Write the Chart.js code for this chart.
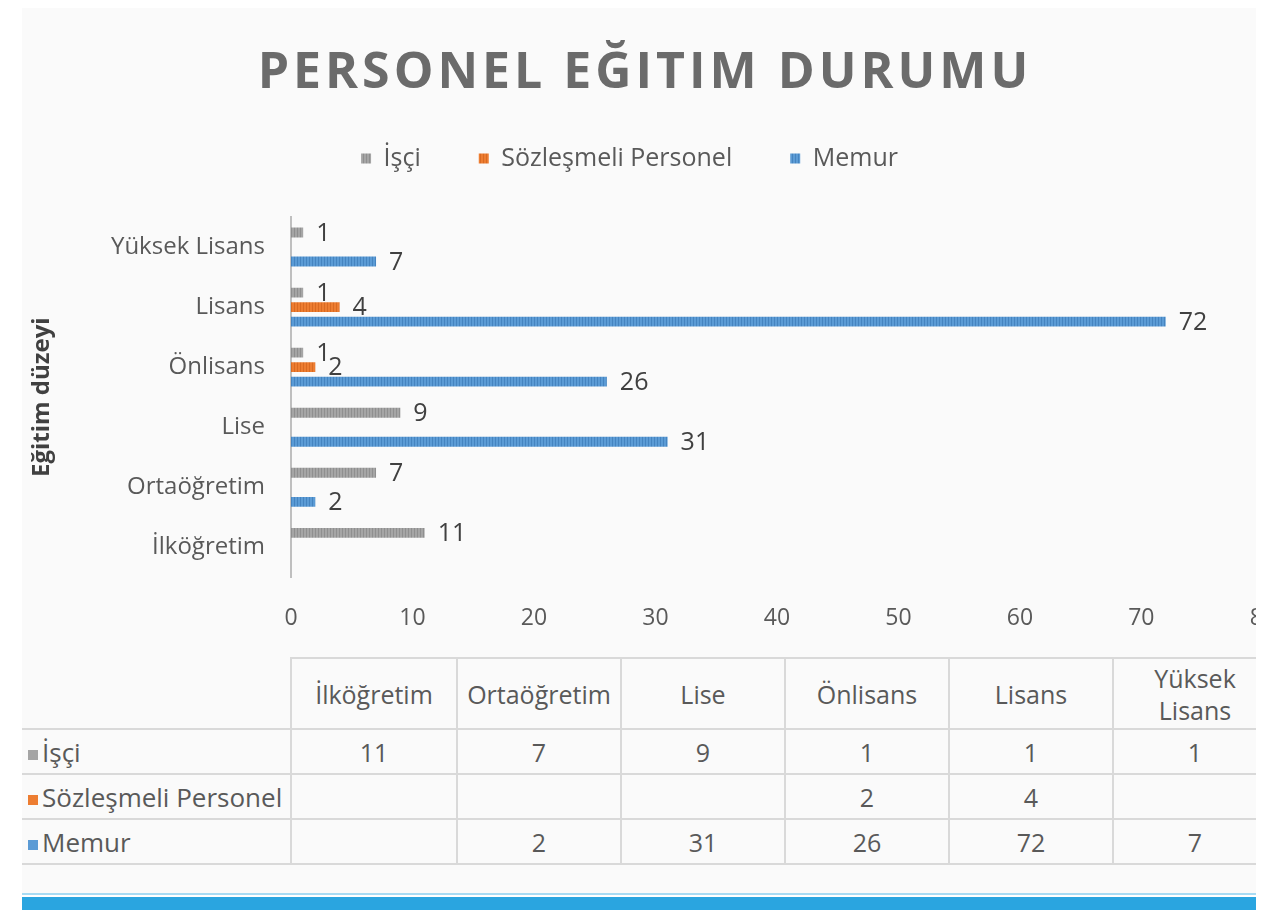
<!DOCTYPE html>
<html lang="tr">
<head>
<meta charset="utf-8">
<title>Personel Eğitim Durumu</title>
<script src="https://cdn.jsdelivr.net/npm/chart.js@4.4.1/dist/chart.umd.min.js"></script>
<style>
    html, body { margin: 0; padding: 0; width: 1265px; height: 910px; overflow: hidden; background: #fff; font-family: 'Open Sans', sans-serif; }
    #frame { position: absolute; left: 0; top: 0; width: 1256px; height: 910px; overflow: hidden; }
    #paper { position: absolute; left: 22px; top: 8px; width: 1234px; height: 885px; background: #fafafa; }
    #title { position: absolute; left: 0; top: 34px; width: 1290px; text-align: center; font-size: 50px; font-weight: 700; letter-spacing: 4px; color: #6b6b6b; line-height: 70px; }
    #chartBox { position: absolute; left: -44px; top: 88px; width: 1347px; height: 571px; }
    #dataTable { position: absolute; left: 22px; top: 657px; border-collapse: collapse; table-layout: fixed; width: 1255px; font-size: 25px; color: #595959; }
    #dataTable td { border: 2px solid #d9d9d9; text-align: center; padding: 0; line-height: 32px; }
    #dataTable tr.head td { height: 69px; }
    #dataTable tr.row td { height: 43px; }
    #dataTable td.corner { border-top: none; border-left: none; }
    #dataTable td.name { border-left: none; text-align: left; padding-left: 6px; white-space: nowrap; font-size: 26px; }
    .key { display: inline-block; width: 10px; height: 10px; margin-right: 4px; vertical-align: 2px; }
    #bandLight { position: absolute; left: 22px; top: 893px; width: 1234px; height: 2px; background: #a8dbf3; }
    #band { position: absolute; left: 22px; top: 897px; width: 1234px; height: 13px; background: #2aa5e0; }
</style>
</head>
<body>
<div id="frame">
    <div id="paper"></div>
    <div id="title">PERSONEL EĞITIM DURUMU</div>
    <table id="dataTable"></table>
    <div id="chartBox"><canvas id="egitimChart"></canvas></div>
    <div id="bandLight"></div>
    <div id="band"></div>
</div>
<script>
var categories       = ['İlköğretim', 'Ortaöğretim', 'Lise', 'Önlisans', 'Lisans', 'Yüksek Lisans'];
var seriesNames      = ['İşçi', 'Sözleşmeli Personel', 'Memur'];
var isciValues       = [11, 7, 9, 1, 1, 1];
var sozlesmeliValues = [null, null, null, 2, 4, null];
var memurValues      = [null, 2, 31, 26, 72, 7];
var xTicks           = [0, 10, 20, 30, 40, 50, 60, 70, 80];
var seriesColors     = [['#a5a5a5', '#8f8f8f'], ['#ed7d31', '#d96a22'], ['#5b9bd5', '#4584c0']];

Chart.defaults.font.family = "'Open Sans', sans-serif";

// striped fill like the excel bars
function stripes(base, dark) {
    var c = document.createElement('canvas');
    c.width = 3; c.height = 1;
    var g = c.getContext('2d');
    g.fillStyle = base; g.fillRect(0, 0, 3, 1);
    g.fillStyle = dark; g.fillRect(2, 0, 1, 1);
    return g.createPattern(c, 'repeat');
}

var valueLabels = {
    id: 'valueLabels',
    afterDatasetsDraw: function (chart) {
        var ctx = chart.ctx;
        ctx.save();
        ctx.font = "25px 'Open Sans', sans-serif";
        ctx.fillStyle = '#404040';
        ctx.textAlign = 'left';
        ctx.textBaseline = 'middle';
        chart.data.datasets.forEach(function (ds, i) {
            chart.getDatasetMeta(i).data.forEach(function (bar, j) {
                var v = ds.data[j];
                if (v === null || v === undefined) return;
                ctx.fillText(String(v), bar.x + 13, bar.y + 1);
            });
        });
        ctx.restore();
    }
};

// more room between legend and plot
var legendGap = {
    id: 'legendGap',
    beforeInit: function (chart) {
        var orig = chart.legend.fit;
        chart.legend.fit = function () {
            orig.call(this);
            this.height = 129;
        };
    }
};

var allValues = [isciValues, sozlesmeliValues, memurValues];

new Chart(document.getElementById('egitimChart'), {
    type: 'bar',
    data: {
        labels: categories,
        datasets: seriesNames.map(function (name, i) {
            return {
                label: name,
                data: allValues[i],
                backgroundColor: stripes(seriesColors[i][0], seriesColors[i][1]),
                borderWidth: 0,
                categoryPercentage: 0.725,
                barPercentage: 0.68
            };
        })
    },
    options: {
        indexAxis: 'y',
        responsive: true,
        maintainAspectRatio: false,
        animation: false,
        layout: { padding: 0 },
        plugins: {
            legend: {
                position: 'top',
                labels: { boxWidth: 10, boxHeight: 10, padding: 58, color: '#595959', font: { size: 25 } }
            },
            tooltip: { enabled: true }
        },
        scales: {
            x: {
                min: 0, max: 80,
                grid: { display: false, drawTicks: false },
                border: { display: false },
                afterBuildTicks: function (scale) {
                    scale.ticks = xTicks.map(function (v) { return { value: v }; });
                },
                ticks: { color: '#595959', padding: 27, font: { size: 23 } }
            },
            y: {
                reverse: true,
                grid: { display: false, drawTicks: false },
                border: { display: true, color: '#bfbfbf', width: 2 },
                ticks: { color: '#595959', padding: 26, font: { size: 24 } },
                title: {
                    display: true, text: 'Eğitim düzeyi', color: '#404040',
                    font: { size: 24, weight: 'bold' }, padding: { top: 72, bottom: 0 }
                },
                afterFit: function (scale) { scale.width = 335; }
            }
        }
    },
    plugins: [valueLabels, legendGap]
});

// data table under the chart
(function () {
    var table = document.getElementById('dataTable');
    var widths = [269, 166, 164, 164, 164, 164, 164];
    var cg = document.createElement('colgroup');
    widths.forEach(function (w) {
        var col = document.createElement('col');
        col.style.width = w + 'px';
        cg.appendChild(col);
    });
    table.appendChild(cg);

    var head = document.createElement('tr');
    head.className = 'head';
    var corner = document.createElement('td');
    corner.className = 'corner';
    head.appendChild(corner);
    categories.forEach(function (c) {
        var td = document.createElement('td');
        td.innerHTML = c === 'Yüksek Lisans' ? 'Yüksek<br>Lisans' : c;
        head.appendChild(td);
    });
    table.appendChild(head);

    seriesNames.forEach(function (name, i) {
        var tr = document.createElement('tr');
        tr.className = 'row';
        var first = document.createElement('td');
        first.className = 'name';
        var key = document.createElement('span');
        key.className = 'key';
        key.style.background = seriesColors[i][0];
        first.appendChild(key);
        first.appendChild(document.createTextNode(name));
        tr.appendChild(first);
        allValues[i].forEach(function (v) {
            var td = document.createElement('td');
            td.textContent = v === null ? '' : v;
            tr.appendChild(td);
        });
        table.appendChild(tr);
    });
})();
</script>
</body>
</html>
